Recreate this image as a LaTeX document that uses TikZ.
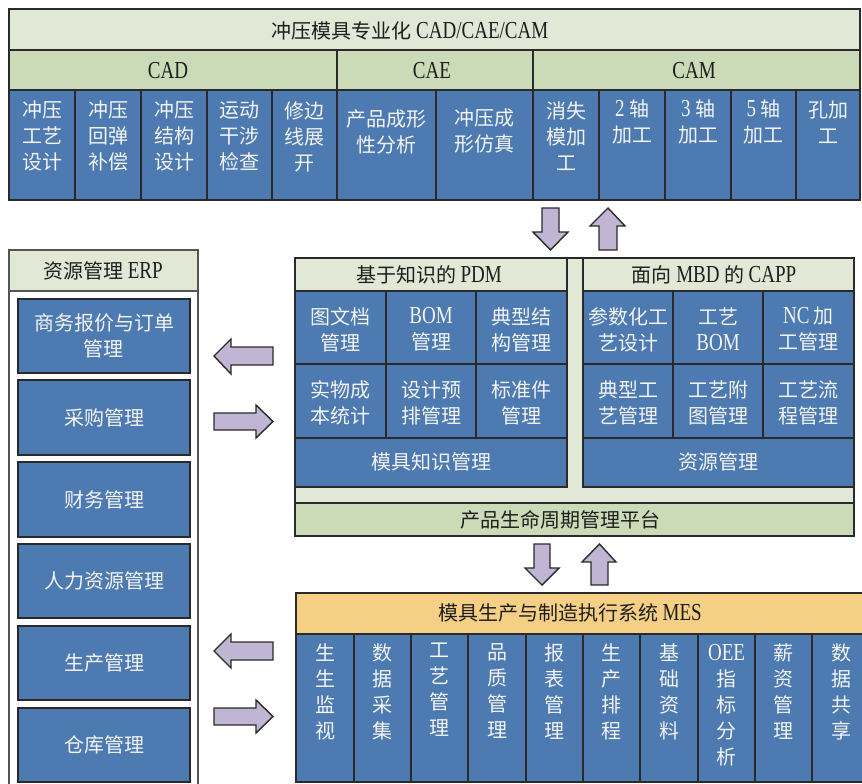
\documentclass[tikz,border=0pt]{standalone}
\usepackage{fontspec}
\setmainfont{Noto Sans CJK SC}
\newfontfamily\latf[Scale=1.22,FakeStretch=0.78]{Liberation Serif}
\newcommand\en[1]{{\latf #1}}
\definecolor{cblue}{HTML}{4C7AB1}
\definecolor{clight}{HTML}{E2E8D6}
\definecolor{cgreen}{HTML}{CCDBB7}
\definecolor{corange}{HTML}{F5D084}
\definecolor{clav}{HTML}{C0B5D2}
\definecolor{cbord}{HTML}{2A2A2A}
\definecolor{ctext}{HTML}{1E1E1E}
\definecolor{cwhite}{HTML}{F4F4F4}
\begin{document}
\begin{tikzpicture}[x=1pt,y=-1pt,
  txt/.style={font=\fontsize{20}{26}\selectfont, inner sep=0pt, align=center},
  wt/.style={txt, text=cwhite},
  bk/.style={txt, text=ctext},
  box/.style={draw=cbord, line width=1.5pt},
  bluebox/.style={box, fill=cblue},
  arr/.style={draw=cbord, fill=clav, line width=1.4pt, line join=miter}]
\useasboundingbox (0,0) rectangle (862,784);
\clip (0,0) rectangle (862,784);

% ---------------- top block ----------------
\path[box, fill=clight] (9,9) rectangle (860,50);
\path[box, fill=cgreen] (9,50) rectangle (337,90);
\path[box, fill=cgreen] (337,50) rectangle (533,90);
\path[box, fill=cgreen] (533,50) rectangle (860,90);
\node[bk] (title) at (410,31) {冲压模具专业化 \en{CAD/CAE/CAM}};
\node[bk] (cad) at (168,71) {\en{CAD}};
\node[bk] (cae) at (432,71) {\en{CAE}};
\node[bk] (cam) at (694,71) {\en{CAM}};
\foreach \a/\b/\n/\t [count=\i] in {
  9/75/101/{冲压\\工艺\\设计},
  75/141/101/{冲压\\回弹\\补偿},
  141/207/101/{冲压\\结构\\设计},
  207/272/101/{运动\\干涉\\检查},
  272/337/101/{修边\\线展\\开},
  337/436/109/{产品成形\\性分析},
  436/533/109/{冲压成\\形仿真},
  533/599/101/{消失\\模加\\工},
  599/665/99/{\en{2} 轴\\加工},
  665/731/99/{\en{3} 轴\\加工},
  731/796/99/{\en{5} 轴\\加工},
  796/860/101/{孔加\\工}} {
  \path[bluebox] (\a,90) rectangle (\b,200);
  \node[wt, anchor=north] (top\i) at ({(\a+\b)/2},\n) {\t};
}

% top arrows
\draw[arr] (542,208) -- (559,208) -- (559,232) -- (568,232) -- (550.5,250)
  -- (533,232) -- (542,232) -- cycle;
\draw[arr] (599,250) -- (617,250) -- (617,226) -- (625,226) -- (608,208)
  -- (590,226) -- (599,226) -- cycle;

% ---------------- middle block ----------------
\path[box, fill=clight] (295,258) rectangle (854,536);
\path[box, fill=clight] (295,258) rectangle (567,291);
\path[box, fill=clight] (583,258) rectangle (854,291);
\node[bk] (pdm) at (429,275) {基于知识的 \en{PDM}};
\node[bk] (capp) at (714,275) {面向 \en{MBD} 的 \en{CAPP}};
\foreach \a/\b/\c/\d/\t [count=\i] in {
  295/386/291/364/{图文档\\管理},
  386/476/291/364/{\en{BOM}\\管理},
  476/567/291/364/{典型结\\构管理},
  295/386/364/438/{实物成\\本统计},
  386/476/364/438/{设计预\\排管理},
  476/567/364/438/{标准件\\管理},
  583/673/291/364/{参数化工\\艺设计},
  673/763/291/364/{工艺\\\en{BOM}},
  763/854/291/364/{\en{NC} 加\\工管理},
  583/673/364/438/{典型工\\艺管理},
  673/763/364/438/{工艺附\\图管理},
  763/854/364/438/{工艺流\\程管理}} {
  \path[bluebox] (\a,\c) rectangle (\b,\d);
  \node[wt] (mid\i) at ({(\a+\b)/2},{(\c+\d)/2+2}) {\t};
}
\path[bluebox] (295,438) rectangle (567,487);
\node[wt] (mjzs) at (431,462) {模具知识管理};
\path[bluebox] (583,438) rectangle (854,487);
\node[wt] (zygl) at (718,462) {资源管理};
\path[box, fill=cgreen] (295,503) rectangle (854,536);
\node[bk] (plm) at (560,520) {产品生命周期管理平台};

% middle arrows
\draw[arr] (534,544) -- (550,544) -- (550,568) -- (559,568) -- (542,585)
  -- (525,568) -- (534,568) -- cycle;
\draw[arr] (591,585) -- (608,585) -- (608,562) -- (616,562) -- (599.5,544)
  -- (582,562) -- (591,562) -- cycle;

% ---------------- MES ----------------
\path[box, fill=corange] (296,593) rectangle (880,634);
\node[bk] (mes) at (570,613) {模具生产与制造执行系统 \en{MES}};
\foreach \a/\b/\t [count=\i] in {
  296/354/{生\\生\\监\\视},
  354/411/{数\\据\\采\\集},
  411/468/{工\\艺\\管\\理},
  468/526/{品\\质\\管\\理},
  526/583/{报\\表\\管\\理},
  583/640/{生\\产\\排\\程},
  640/698/{基\\础\\资\\料},
  698/755/{\en{OEE}\vphantom{生}\\指\\标\\分\\析},
  755/812/{薪\\资\\管\\理},
  812/870/{数\\据\\共\\享}} {
  \path[bluebox] (\a,634) rectangle (\b,782);
  \node[wt, anchor=north] (mes\i) at ({(\a+\b)/2},643) {\t};
}

% ---------------- ERP ----------------
\path[draw=cbord!80, line width=1.3pt, fill=white] (9,250) rectangle (198,795);
\path[draw=cbord!80, line width=1.3pt, fill=clight] (9,250) rectangle (198,291);
\node[bk] (erp) at (103,271) {资源管理 \en{ERP}};
\foreach \c/\d/\t [count=\i] in {
  299/373/{商务报价与订单\\管理},
  380/455/{采购管理},
  462/537/{财务管理},
  544/618/{人力资源管理},
  626/700/{生产管理},
  708/782/{仓库管理}} {
  \path[bluebox] (18,\c) rectangle (190,\d);
  \node[wt] (erp\i) at (104,{(\c+\d)/2}) {\t};
}

% left arrows
\draw[arr] (214,356) -- (231,339) -- (231,347) -- (273,347) -- (273,365)
  -- (231,365) -- (231,374) -- cycle;
\draw[arr] (273,421.5) -- (256,405) -- (256,413) -- (214,413) -- (214,430)
  -- (256,430) -- (256,438) -- cycle;
\draw[arr] (214,651) -- (231,634) -- (231,642) -- (273,642) -- (273,660)
  -- (231,660) -- (231,668) -- cycle;
\draw[arr] (273,716.5) -- (256,700) -- (256,708) -- (214,708) -- (214,725)
  -- (256,725) -- (256,733) -- cycle;
\end{tikzpicture}
\end{document}
